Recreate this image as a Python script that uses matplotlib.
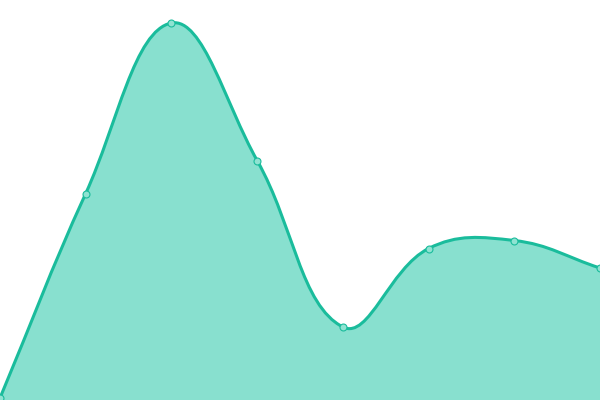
import matplotlib
matplotlib.use("Agg")
import matplotlib.pyplot as plt
import numpy as np
from matplotlib.path import Path
from matplotlib.patches import PathPatch

# data (value units = pixel height on a 0..400 axis)
labels = ["A", "B", "C", "D", "E", "F", "G", "H"]
values = [2, 206.5, 377, 239.5, 73, 151.5, 159.5, 132]

line_color = "#1abc9c"
fill_color = "#88e0cf"
tension = 0.4

fig = plt.figure(figsize=(6, 4), dpi=100)
ax = fig.add_axes([0, 0, 1, 1])
ax.set_xlim(0, len(values) - 1)
ax.set_ylim(0, 400)
ax.axis("off")

# points in display space, so the spline smoothing uses screen distances
xs = np.arange(len(values))
pts = ax.transData.transform(np.column_stack([xs, values]))

# chart.js-like cardinal spline control points
cps = []
for i in range(len(pts)):
    p1 = pts[i]
    p0 = pts[i - 1] if i > 0 else p1
    p2 = pts[i + 1] if i < len(pts) - 1 else p1
    d01 = np.hypot(*(p1 - p0))
    d12 = np.hypot(*(p2 - p1))
    tot = d01 + d12
    s01 = d01 / tot if tot else 0
    s12 = d12 / tot if tot else 0
    prev_cp = p1 - tension * s01 * (p2 - p0)
    next_cp = p1 + tension * s12 * (p2 - p0)
    # cap to the chart area
    lo = ax.transData.transform((0, 0))
    hi = ax.transData.transform((len(values) - 1, 400))
    prev_cp = np.clip(prev_cp, lo, hi)
    next_cp = np.clip(next_cp, lo, hi)
    cps.append((prev_cp, next_cp))

inv = ax.transData.inverted()
verts = [pts[0]]
codes = [Path.MOVETO]
for i in range(1, len(pts)):
    verts += [cps[i - 1][1], cps[i][0], pts[i]]
    codes += [Path.CURVE4] * 3
verts = inv.transform(np.array(verts))

line_path = Path(verts, codes)
fill_verts = np.vstack([verts, [[len(values) - 1, 0], [0, 0], verts[0]]])
fill_codes = codes + [Path.LINETO, Path.LINETO, Path.CLOSEPOLY]
fill_path = Path(fill_verts, fill_codes)

ax.add_patch(PathPatch(fill_path, facecolor=fill_color, edgecolor="none", zorder=1))
ax.add_patch(PathPatch(line_path, facecolor="none", edgecolor=line_color, lw=2.2, zorder=2))
ax.plot(xs, values, "o", ms=5, mfc="#8fe3d2", mec=line_color, mew=0.8, zorder=3, clip_on=False)

fig.savefig("out.png", dpi=100)
